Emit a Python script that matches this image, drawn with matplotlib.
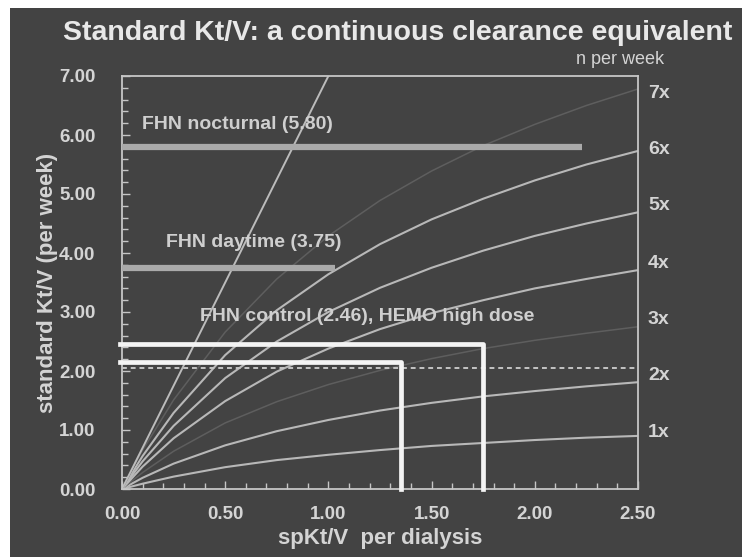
import matplotlib
matplotlib.use("Agg")
import matplotlib.pyplot as plt
from matplotlib.patches import Rectangle
from matplotlib.ticker import MultipleLocator, FormatStrFormatter

plt.rcParams['font.family'] = ['Liberation Sans', 'DejaVu Sans']

# spKt/V per dialysis (x) and standard Kt/V per week for each schedule
sp_ktv = [0, 0.1, 0.25, 0.5, 0.75, 1.0, 1.25, 1.5, 1.75, 2.0, 2.25, 2.5]
std_1x = [0, 0.09, 0.21, 0.37, 0.49, 0.58, 0.66, 0.73, 0.78, 0.83, 0.87, 0.90]
std_2x = [0, 0.19, 0.43, 0.74, 0.98, 1.17, 1.33, 1.46, 1.57, 1.66, 1.74, 1.81]
std_3x = [0, 0.28, 0.64, 1.12, 1.48, 1.77, 2.01, 2.21, 2.38, 2.52, 2.64, 2.75]
std_4x = [0, 0.38, 0.86, 1.49, 1.99, 2.38, 2.71, 2.98, 3.20, 3.40, 3.56, 3.71]
std_5x = [0, 0.47, 1.07, 1.88, 2.50, 3.00, 3.41, 3.75, 4.04, 4.29, 4.50, 4.69]
std_6x = [0, 0.56, 1.29, 2.27, 3.03, 3.64, 4.15, 4.57, 4.92, 5.23, 5.50, 5.73]
std_7x = [0, 0.66, 1.51, 2.66, 3.56, 4.29, 4.89, 5.39, 5.82, 6.18, 6.50, 6.78]
schedules = ["1x", "2x", "3x", "4x", "5x", "6x", "7x"]
curves = [std_1x, std_2x, std_3x, std_4x, std_5x, std_6x, std_7x]
curve_bright = [True, True, False, True, True, True, False]
label_y = [0.95, 1.92, 2.88, 3.83, 4.80, 5.76, 6.71]

# steep reference line
steep_x = [0, 1.0]
steep_y = [0, 7.0]

# study doses
noct_val, noct_end = 5.80, 2.23
day_val, day_end = 3.75, 1.03
control_val, control_end = 2.46, 1.75
hemo_val, hemo_end = 2.15, 1.35
dashed_val = 2.05

bg = '#434343'
fg = '#d4d4d4'

fig = plt.figure(figsize=(7.42, 5.57), dpi=100, facecolor='white')
fig.patches.append(Rectangle((10 / 742, 0), 1, 549 / 557, transform=fig.transFigure,
                             facecolor=bg, edgecolor='none', zorder=-10))
ax = fig.add_axes([122 / 742, 1 - 489 / 557, 516 / 742, 413 / 557])
ax.set_facecolor(bg)

for name, ys, bright in zip(schedules, curves, curve_bright):
    if bright:
        ax.plot(sp_ktv, ys, color='#b8b8b8', lw=1.5, zorder=2)
    else:
        ax.plot(sp_ktv, ys, color='#5e5e5e', lw=1.1, zorder=2)
ax.plot(steep_x, steep_y, color='#bcbcbc', lw=1.4, zorder=2)

# dashed line near 2.0
ax.plot([0, 2.5], [dashed_val, dashed_val], color='#c4c4c4', lw=1.4,
        dashes=(2.5, 2), zorder=3)

# FHN frequent bars
ax.plot([0, noct_end], [noct_val, noct_val], color='#aaaaaa', lw=4.5,
        solid_capstyle='butt', zorder=4)
ax.plot([0, day_end], [day_val, day_val], color='#aaaaaa', lw=4.5,
        solid_capstyle='butt', zorder=4)

# control / HEMO boxes
ax.plot([-0.01, control_end, control_end], [control_val, control_val, 0],
        color='#f4f4f4', lw=3.4, solid_joinstyle='round', zorder=5, clip_on=False)
ax.plot([-0.01, hemo_end, hemo_end], [hemo_val, hemo_val, 0],
        color='#f4f4f4', lw=3.4, solid_joinstyle='round', zorder=5, clip_on=False)

ax.text(0.095, noct_val + 0.38, 'FHN nocturnal (5.80)', color='#cfcfcf', fontsize=14,
        fontweight='bold', va='center', ha='left', zorder=6)
ax.text(0.215, day_val + 0.42, 'FHN daytime (3.75)', color='#cfcfcf', fontsize=14,
        fontweight='bold', va='center', ha='left', zorder=6)
ax.text(0.38, control_val + 0.47, 'FHN control (2.46), HEMO high dose', color='#cfcfcf',
        fontsize=14, fontweight='bold', va='center', ha='left', zorder=6)

for name, ly in zip(schedules, label_y):
    ax.text(2.548, ly, name, color=fg, fontsize=14, fontweight='bold',
            va='center', ha='left', clip_on=False)

ax.set_xlim(0, 2.5)
ax.set_ylim(0, 7)
ax.xaxis.set_major_locator(MultipleLocator(0.5))
ax.xaxis.set_minor_locator(MultipleLocator(0.1))
ax.yaxis.set_major_locator(MultipleLocator(1))
ax.yaxis.set_minor_locator(MultipleLocator(0.2))
ax.xaxis.set_major_formatter(FormatStrFormatter('%.2f'))
ax.yaxis.set_major_formatter(FormatStrFormatter('%.2f'))

for s in ax.spines.values():
    s.set_color('#c6c6c6')
    s.set_linewidth(1.3)

ax.tick_params(axis='both', which='both', direction='in', colors='#c6c6c6',
               labelcolor=fg, width=1.0)
ax.tick_params(axis='both', which='major', length=6)
ax.tick_params(axis='both', which='minor', length=4)
ax.tick_params(axis='y', which='major', pad=19)
ax.tick_params(axis='x', which='major', pad=12)
for lab in ax.get_xticklabels() + ax.get_yticklabels():
    lab.set_fontweight('bold')
    lab.set_fontsize(13.5)

ax.set_xlabel('spKt/V  per dialysis', color=fg, fontsize=16, fontweight='bold', labelpad=4)
ax.set_ylabel('standard Kt/V (per week)', color=fg, fontsize=16, fontweight='bold', labelpad=1)

fig.text(398 / 742, 1 - 33 / 557, 'Standard Kt/V: a continuous clearance equivalent',
         color='#e8e8e8', fontsize=20.5, fontweight='bold', ha='center', va='center')
fig.text(620 / 742, 1 - 60 / 557, 'n per week', color=fg, fontsize=13,
         ha='center', va='center')

fig.savefig('out.png', dpi=100, facecolor=fig.get_facecolor())
